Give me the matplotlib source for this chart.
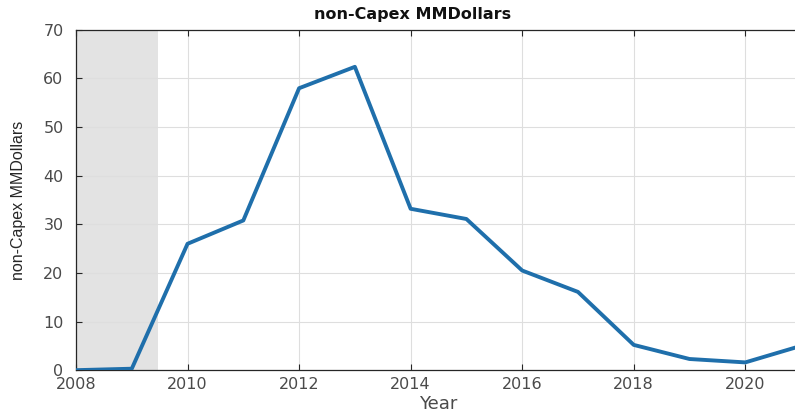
import matplotlib
matplotlib.use("Agg")
import matplotlib.pyplot as plt

years = [2008, 2009, 2010, 2011, 2012, 2013, 2014, 2015, 2016, 2017, 2018, 2019, 2020, 2021]
values = [0.0, 0.3, 26.0, 30.8, 58.0, 62.4, 33.2, 31.1, 20.5, 16.1, 5.2, 2.3, 1.6, 5.0]
shade_span = (2008, 2009.47)

plt.rcParams["font.family"] = ["DejaVu Sans"]

fig = plt.figure(figsize=(7.95, 4.15), dpi=100)
# axes run to 2021, a little past the right edge of the picture
ax = fig.add_axes([0.0956, 0.108, 0.912, 0.82])

ax.axvspan(*shade_span, color="#e3e3e3", zorder=0, lw=0)
ax.plot(years, values, color="#1f6fab", linewidth=2.8, zorder=3)

ax.set_xlim(2008, 2021)
ax.set_ylim(0, 70)
ax.set_xticks(range(2008, 2021, 2))
ax.set_yticks(range(0, 71, 10))
ax.grid(True, color="#dedede", linewidth=0.8, zorder=1)
ax.set_axisbelow(True)

ax.tick_params(direction="in", top=True, right=False, length=4, width=0.8,
               labelsize=11.5, labelcolor="#4a4a4a", color="#262626")
ax.tick_params(axis="x", pad=5)
ax.tick_params(axis="y", pad=9)
for side in ["top", "left", "bottom"]:
    ax.spines[side].set_color("#262626")
    ax.spines[side].set_linewidth(0.9)
ax.spines["right"].set_visible(False)

fig.text(413 / 795, 1 - 14 / 415, "non-Capex MMDollars", fontsize=11.5,
         fontweight="bold", ha="center", va="center", color="#111111")
ax.set_xlabel("Year", fontsize=13, color="#4a4a4a", labelpad=2)
ax.set_ylabel("non-Capex MMDollars", fontsize=11.5, color="#262626",
              family="Liberation Sans", labelpad=12)

fig.savefig("out.png", dpi=100)
